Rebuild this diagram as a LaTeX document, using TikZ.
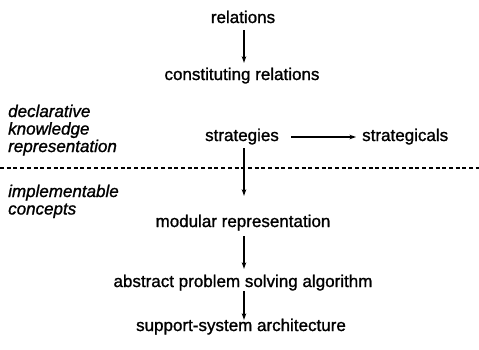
\documentclass[tikz,border=0pt]{standalone}
\usepackage{fontspec}
\setmainfont{Liberation Sans}[UprightFeatures={FakeBold=1.2},ItalicFeatures={FakeBold=1.2}]
\usetikzlibrary{arrows.meta}
\begin{document}
\begin{tikzpicture}[x=1bp,y=-1bp,
  lbl/.style={font=\fontsize{17bp}{20bp}\selectfont, inner sep=0pt,
    text height=12bp, text depth=4bp, anchor=base},
  side/.style={font=\fontsize{17bp}{20bp}\selectfont\itshape, inner sep=0pt,
    anchor=base west},
  flow/.style={line width=1.5bp, -{Stealth[length=6.5bp,width=4.5bp]}},
  sep/.style={line width=1.2bp, dash pattern=on 4bp off 2.7bp}]
\useasboundingbox (0,0) rectangle (479,349);

% main chain
\node[lbl] (rel)   at (243,23)  {relations};
\node[lbl] (con)   at (242,80)  {constituting relations};
\node[lbl] (str)   at (242,141) {strategies};
\node[lbl,anchor=base west] (stc) at (362,141) {strategicals};
\node[lbl] (mod)   at (243,227) {modular representation};
\node[lbl] (alg)   at (243,287) {abstract problem solving algorithm};
\node[lbl] (arch)  at (241,331) {support-system architecture};

% side labels, one node per line
\node[side] (decl1) at (8,117)   {declarative};
\node[side] (decl2) at (8,134.5) {knowledge};
\node[side] (decl3) at (8,152)   {representation};
\node[side] (impl1) at (8,197)   {implementable};
\node[side] (impl2) at (8,214.5) {concepts};

% separator between the two levels
\coordinate (sepL) at (0,168);
\coordinate (sepR) at (479,168);
\draw[sep] (sepL) -- (sepR);

% connectors
\coordinate (ax) at (244,0);
\draw[flow, shorten <=3bp, shorten >=5bp] (rel.south -| ax) -- (con.north -| ax);
\draw[flow, shorten <=3bp, shorten >=19bp] (str.south -| ax) -- (mod.north -| ax);
\draw[flow, shorten <=5bp, shorten >=6bp] (mod.south -| ax) -- (alg.north -| ax);
\draw[flow, shorten <=0bp, shorten >=-1bp] (alg.south -| ax) -- (arch.north -| ax);
\draw[flow, line width=1.2bp, shorten <=12bp, shorten >=6bp] (str.east) -- (stc.west);
\end{tikzpicture}
\end{document}
